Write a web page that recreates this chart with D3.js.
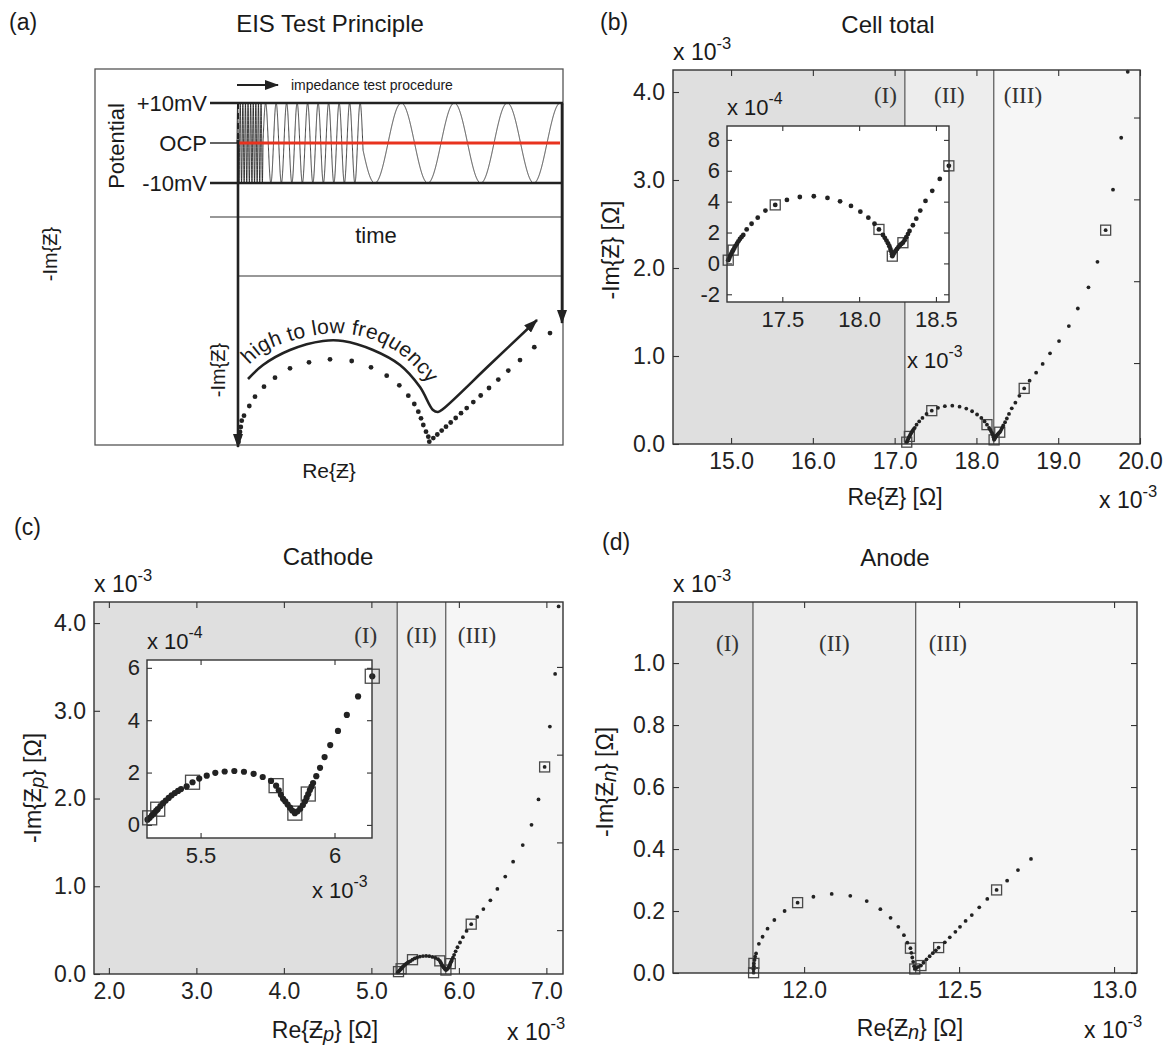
<!DOCTYPE html>
<html>
<head>
<meta charset="utf-8">
<script src="https://cdn.jsdelivr.net/npm/d3@7/dist/d3.min.js"></script>
<style>
html,body{margin:0;padding:0;background:#fff;}
svg{display:block;}
</style>
</head>
<body>
<svg id="fig" width="1169" height="1051" xmlns="http://www.w3.org/2000/svg"></svg>
<script>
const SANS = '"Liberation Sans", Arial, Helvetica, sans-serif';
const SERIF = '"Liberation Serif", "Times New Roman", serif';

// ================= DATA =================
// (a) schematic
const potentialLabels = ["+10mV", "OCP", "-10mV"];
const potentialValues = [10, 0, -10];
const sweepSegmentEnd = [26, 126, 326];
const sweepSegmentPeriod = [2.6, 10.5, 53];
const schemDotRe = [1.5, 2.2, 3, 3.8, 4.7, 7, 12.3, 18, 27, 38, 53, 72, 93, 114.7, 134, 149.7, 162.3, 171.3, 177.3, 181.3, 184, 186.3, 189, 191.3, 192.3, 196.3, 200.3, 204.7, 209, 213.7, 218.7, 224, 229.7, 236.3, 243.7, 252, 261.3, 271.3, 283, 297.3, 313];
const schemDotIm = [3, 8, 13, 18, 24.3, 29.3, 39, 48.3, 58.3, 67.3, 76.7, 82.7, 85.7, 84, 77.7, 69.3, 59.7, 49.3, 41, 33.3, 26.7, 20, 13.3, 8.3, 3.3, 6.9, 10.5, 14.4, 18.3, 22.5, 27, 31.8, 36.9, 42.9, 49.5, 57, 65.4, 74.4, 84.9, 97.8, 111.9];
const schemArcRe = [11, 26, 53, 86, 106, 136, 163, 183, 196, 201, 206, 253, 300];
const schemArcIm = [66, 80, 95, 104, 104, 95, 80, 58, 35, 33, 36, 80.5, 125];
const schemTextRe = [10, 27, 54, 86, 112, 142, 168, 187, 199];
const schemTextIm = [78, 93, 104, 111, 111, 103, 87, 67, 50];

// (b) Cell total  [x 1e-3 Ohm]
const cellRe = [17.148,17.155,17.162,17.168,17.175,17.18,17.188,17.196,17.205,17.214,17.224,17.235,17.246,17.268,17.30,17.34,17.39,17.454,17.53,17.614,17.705,17.794,17.876,17.947,18.008,18.06,18.10,18.129,18.155,18.167,18.178,18.188,18.197,18.204,18.21,18.214,18.216,18.222,18.23,18.238,18.247,18.256,18.266,18.275,18.285,18.296,18.307,18.318,18.328,18.35,18.372,18.398,18.432,18.476,18.525,18.584,18.65,18.73,18.81,18.90,19.01,19.13,19.24,19.37,19.48,19.58,19.67,19.77,19.85];
const cellIm = [0.021,0.035,0.05,0.063,0.076,0.086,0.1,0.114,0.128,0.143,0.158,0.171,0.184,0.22,0.257,0.296,0.342,0.379,0.411,0.43,0.435,0.424,0.402,0.372,0.335,0.296,0.257,0.22,0.184,0.166,0.148,0.13,0.111,0.093,0.076,0.06,0.047,0.058,0.07,0.082,0.094,0.106,0.118,0.126,0.134,0.15,0.17,0.19,0.21,0.247,0.29,0.342,0.405,0.47,0.547,0.632,0.72,0.81,0.91,1.03,1.17,1.34,1.54,1.78,2.07,2.43,2.89,3.48,4.23];
const cellBoxRe = [17.148,17.18,17.454,18.129,18.216,18.285,18.584,19.58];
const cellBoxIm = [0.021,0.086,0.379,0.22,0.047,0.134,0.632,2.43];

// (c) Cathode
const cathRe = [5.302,5.31,5.318,5.326,5.334,5.34,5.35,5.36,5.37,5.381,5.392,5.404,5.416,5.427,5.448,5.47,5.495,5.523,5.555,5.59,5.626,5.662,5.698,5.732,5.763,5.782,5.792,5.80,5.808,5.816,5.825,5.834,5.842,5.852,5.862,5.872,5.882,5.89,5.896,5.902,5.908,5.914,5.92,5.932,5.946,5.963,5.984,6.013,6.046,6.088,6.141,6.21,6.28,6.36,6.44,6.53,6.62,6.73,6.83,6.91,6.98,7.04,7.10,7.14];
const cathIm = [0.02,0.027,0.036,0.045,0.054,0.06,0.072,0.083,0.093,0.103,0.113,0.122,0.13,0.137,0.147,0.163,0.177,0.188,0.199,0.204,0.206,0.203,0.195,0.183,0.168,0.15,0.132,0.115,0.1,0.09,0.078,0.066,0.055,0.045,0.052,0.062,0.076,0.09,0.104,0.118,0.133,0.146,0.16,0.186,0.218,0.259,0.305,0.359,0.42,0.491,0.568,0.65,0.74,0.84,0.97,1.11,1.28,1.47,1.70,1.99,2.36,2.82,3.42,4.19];
const cathBoxRe = [5.31,5.34,5.47,5.782,5.852,5.902,6.141,6.98];
const cathBoxIm = [0.027,0.06,0.163,0.15,0.045,0.118,0.568,2.36];

// (d) Anode
const anodRe = [11.837,11.837,11.838,11.838,11.84,11.842,11.845,11.854,11.866,11.882,11.904,11.937,11.979,12.03,12.089,12.149,12.202,12.246,12.279,12.304,12.322,12.333,12.343,12.346,12.349,12.352,12.355,12.357,12.362,12.368,12.377,12.385,12.395,12.405,12.415,12.425,12.434,12.454,12.47,12.488,12.503,12.521,12.541,12.565,12.591,12.621,12.655,12.69,12.732];
const anodIm = [0.001,0.012,0.022,0.031,0.042,0.053,0.063,0.094,0.117,0.143,0.171,0.2,0.227,0.246,0.255,0.249,0.232,0.206,0.178,0.149,0.122,0.098,0.08,0.065,0.05,0.036,0.022,0.013,0.016,0.02,0.024,0.033,0.044,0.054,0.064,0.073,0.082,0.099,0.115,0.133,0.149,0.168,0.187,0.212,0.239,0.268,0.298,0.332,0.368];
const anodBoxRe = [11.837,11.838,11.979,12.343,12.357,12.377,12.434,12.621];
const anodBoxIm = [0.001,0.031,0.227,0.08,0.013,0.024,0.082,0.268];

// tick values
const cellXTicks = [15, 16, 17, 18, 19, 20];
const cellYTicks = [0, 1, 2, 3, 4];
const cellRightTicks = [0.92, 1.85, 2.78, 3.71];
const cellInsetXTicks = [17.5, 18.0, 18.5];
const cellInsetYTicks = [-2, 0, 2, 4, 6, 8];
const cathXTicks = [2, 3, 4, 5, 6, 7];
const cathYTicks = [0, 1, 2, 3, 4];
const cathRightTicks = [0.5, 1.5, 2.5, 3.5];
const cathInsetXTicks = [5.5, 6];
const cathInsetYTicks = [0, 2, 4, 6];
const anodXTicks = [12.0, 12.5, 13.0];
const anodYTicks = [0, 0.2, 0.4, 0.6, 0.8, 1.0];
const regionNames = ["(I)", "(II)", "(III)"];
const regionFill = ["#dfdfdf", "#ededed", "#f6f6f6"];

// ================= DRAWING =================
const svg = d3.select("#fig");
const defs = svg.append("defs");
defs.append("marker").attr("id", "ah").attr("viewBox", "0 0 14 10").attr("refX", 13).attr("refY", 5)
  .attr("markerWidth", 14).attr("markerHeight", 10).attr("markerUnits", "userSpaceOnUse").attr("orient", "auto")
  .append("path").attr("d", "M0,0 L14,5 L0,10 Z").attr("fill", "#222");

function txt(g, x, y, s, fs, opt = {}) {
  return g.append("text").attr("x", x).attr("y", y).attr("font-family", opt.ff || SANS)
    .attr("font-size", fs).attr("fill", opt.fill || "#1a1a1a").attr("text-anchor", opt.anchor || "start").text(s);
}
function rich(g, x, y, parts, fs, opt = {}) {
  const t = g.append("text").attr("x", x).attr("y", y).attr("font-family", SANS).attr("font-size", fs)
    .attr("fill", "#1a1a1a").attr("text-anchor", opt.anchor || "start");
  if (opt.rotate) t.attr("transform", `rotate(-90,${x},${y})`);
  parts.forEach(p => {
    const s = t.append("tspan").text(p.t);
    if (p.dy) s.attr("dy", p.dy);
    if (p.fs) s.attr("font-size", p.fs);
    if (p.it) s.attr("font-style", "italic");
  });
  return t;
}
function sci(g, x, y, exp, fs) {
  rich(g, x, y, [{t: "x 10"}, {t: exp, dy: -fs * 0.48, fs: fs * 0.72}], fs);
}

// ---------- Panel (a) ----------
(function () {
  const g = svg.append("g");
  txt(g, 9, 30, "(a)", 23);
  txt(g, 330, 32, "EIS Test Principle", 24, {anchor: "middle"});
  const L = 95, T = 69, R = 563, B = 445;
  g.append("rect").attr("x", L).attr("y", T).attr("width", R - L).attr("height", B - T)
    .attr("fill", "none").attr("stroke", "#555").attr("stroke-width", 1.3);

  const timeX = d3.scaleLinear([0, 326], [237, 563]);
  const potY = d3.scaleLinear([-10, 10], [183, 103]);

  // impedance test procedure arrow
  g.append("line").attr("x1", timeX(0)).attr("x2", timeX(41)).attr("y1", 85).attr("y2", 85)
    .attr("stroke", "#222").attr("stroke-width", 2).attr("marker-end", "url(#ah)");
  txt(g, timeX(54), 90, "impedance test procedure", 14);

  // sine sweep
  const pts = [];
  let phase = 0, t = 0, seg = 0;
  const dt = 0.05;
  while (t <= sweepSegmentEnd[sweepSegmentEnd.length - 1]) {
    pts.push([timeX(t), potY(10 * Math.sin(phase))]);
    while (seg < sweepSegmentEnd.length - 1 && t >= sweepSegmentEnd[seg]) seg++;
    phase += dt / sweepSegmentPeriod[seg] * 2 * Math.PI;
    t += dt;
  }
  g.append("path").attr("d", d3.line()(pts)).attr("fill", "none").attr("stroke", "#111").attr("stroke-width", 0.8);

  // potential levels
  potentialValues.forEach((v, i) => {
    const yy = potY(v);
    if (v === 0) {
      g.append("line").attr("x1", 210).attr("x2", timeX(0)).attr("y1", yy).attr("y2", yy).attr("stroke", "#222").attr("stroke-width", 1.4);
      g.append("line").attr("x1", timeX(0)).attr("x2", timeX(323)).attr("y1", yy).attr("y2", yy).attr("stroke", "#e8321e").attr("stroke-width", 3);
    } else {
      g.append("line").attr("x1", 210).attr("x2", timeX(326)).attr("y1", yy).attr("y2", yy).attr("stroke", "#222").attr("stroke-width", 2.4);
    }
    txt(g, 207, yy + 8, potentialLabels[i], 22, {anchor: "end"});
  });
  g.append("text").attr("transform", "rotate(-90,124,146)").attr("x", 124).attr("y", 146)
    .attr("font-family", SANS).attr("font-size", 22).attr("fill", "#1a1a1a").attr("text-anchor", "middle").text("Potential");

  // time row
  g.append("line").attr("x1", 210).attr("x2", R).attr("y1", 217).attr("y2", 217).attr("stroke", "#333").attr("stroke-width", 1.2);
  txt(g, 376, 243, "time", 22, {anchor: "middle"});
  g.append("line").attr("x1", timeX(0)).attr("x2", R).attr("y1", 276).attr("y2", 276).attr("stroke", "#333").attr("stroke-width", 1.2);

  // vertical arrows
  g.append("line").attr("x1", 238).attr("x2", 238).attr("y1", 103).attr("y2", 140)
    .attr("stroke", "#222").attr("stroke-width", 2).attr("stroke-dasharray", "6,4");
  g.append("line").attr("x1", 238).attr("x2", 238).attr("y1", 140).attr("y2", 447)
    .attr("stroke", "#222").attr("stroke-width", 2.6).attr("marker-end", "url(#ah)");
  g.append("line").attr("x1", 562).attr("x2", 562).attr("y1", 103).attr("y2", 323)
    .attr("stroke", "#222").attr("stroke-width", 2.6).attr("marker-end", "url(#ah)");

  // Nyquist schematic
  const tx = d3.scaleLinear([0, 326], [237, 563]);
  const ty = d3.scaleLinear([0, 342], [445, 103]);
  const arc = schemArcRe.map((r, i) => [tx(r), ty(schemArcIm[i])]);
  g.append("path").attr("d", d3.line().curve(d3.curveCatmullRom)(arc)).attr("fill", "none")
    .attr("stroke", "#222").attr("stroke-width", 2.6).attr("marker-end", "url(#ah)");
  const tp = schemTextRe.map((r, i) => [tx(r), ty(schemTextIm[i])]);
  defs.append("path").attr("id", "tpath").attr("d", d3.line().curve(d3.curveCatmullRom)(tp));
  g.append("text").attr("font-family", SANS).attr("font-size", 21).attr("fill", "#1a1a1a").attr("letter-spacing", 0.3)
    .append("textPath").attr("href", "#tpath").attr("startOffset", 3).text("high to low frequency");
  g.selectAll("circle.sd").data(schemDotRe).join("circle").attr("class", "sd")
    .attr("cx", d => tx(d)).attr("cy", (d, i) => ty(schemDotIm[i])).attr("r", 2.4).attr("fill", "#222");

  rich(g, 225, 370, [{t: "-Im{Ƶ}"}], 20, {anchor: "middle", rotate: true});
  rich(g, 57, 254, [{t: "-Im{Ƶ}"}], 20, {anchor: "middle", rotate: true});
  rich(g, 329, 478, [{t: "Re{Ƶ}"}], 21, {anchor: "middle"});
})();

// ---------- helpers for Nyquist panels ----------
function drawAxes(g, x, y, o) {
  const [L, R] = x.range(), [B, T] = y.range();
  const axes = [
    g.append("g").attr("transform", `translate(0,${B})`).call(d3.axisBottom(x).tickValues(o.xTicks).tickFormat(o.xFmt).tickSize(-o.tick).tickPadding(o.xPad)),
    g.append("g").attr("transform", `translate(0,${T})`).call(d3.axisTop(x).tickValues(o.xTicks).tickFormat("").tickSize(-o.tick)),
    g.append("g").attr("transform", `translate(${L},0)`).call(d3.axisLeft(y).tickValues(o.yTicks).tickFormat(o.yFmt).tickSize(-o.tick).tickPadding(o.yPad)),
    g.append("g").attr("transform", `translate(${R},0)`).call(d3.axisRight(y).tickValues(o.rightTicks || o.yTicks).tickFormat("").tickSize(-o.tick))
  ];
  axes.forEach(a => {
    a.attr("font-family", null).attr("font-size", null);
    a.select(".domain").remove();
    a.selectAll(".tick line").attr("stroke", "#333").attr("stroke-width", 1.1);
    a.selectAll(".tick text").attr("font-family", SANS).attr("font-size", o.fs).attr("fill", "#222");
  });
  g.append("rect").attr("x", L).attr("y", T).attr("width", R - L).attr("height", B - T)
    .attr("fill", "none").attr("stroke", "#333").attr("stroke-width", 1.4);
}
function drawSeries(g, x, y, re, im, bre, bim, mul, r, s) {
  const [x0, x1] = x.domain(), [y0, y1] = y.domain();
  const inside = (a, b) => a >= x0 - 1e-9 && a <= x1 + 0.002 && b * mul >= y0 && b * mul <= y1;
  const dots = re.map((a, i) => [a, im[i]]).filter(d => inside(d[0], d[1]));
  const boxes = bre.map((a, i) => [a, bim[i]]).filter(d => inside(d[0], d[1]));
  g.append("g").selectAll("rect").data(boxes).join("rect")
    .attr("x", d => x(d[0]) - s / 2).attr("y", d => y(d[1] * mul) - s / 2).attr("width", s).attr("height", s)
    .attr("fill", "none").attr("stroke", "#4a4a4a").attr("stroke-width", 1.3);
  g.append("g").selectAll("circle").data(dots).join("circle")
    .attr("cx", d => x(d[0])).attr("cy", d => y(d[1] * mul)).attr("r", r).attr("fill", "#222");
}
const fmt1 = d3.format(".1f");
const fmtPlain = d => String(d);

function drawPanel(p) {
  const g = svg.append("g");
  const x = d3.scaleLinear(p.xDomain, [p.L, p.R]);
  const y = d3.scaleLinear(p.yDomain, [p.B, p.T]);
  const edges = [p.xDomain[0], ...p.bounds, p.xDomain[1]];
  g.selectAll("rect.region").data(regionFill).join("rect").attr("class", "region")
    .attr("x", (d, i) => x(edges[i])).attr("width", (d, i) => x(edges[i + 1]) - x(edges[i]))
    .attr("y", p.T).attr("height", p.B - p.T).attr("fill", d => d);
  g.selectAll("line.bound").data(p.bounds).join("line").attr("class", "bound")
    .attr("x1", d => x(d)).attr("x2", d => x(d)).attr("y1", p.T).attr("y2", p.B)
    .attr("stroke", "#555").attr("stroke-width", 1.2);
  txt(g, x(p.bounds[0]) - p.labOff[0], p.labY, regionNames[0], 23, {ff: SERIF, anchor: "end", fill: "#333"});
  txt(g, (x(p.bounds[0]) + x(p.bounds[1])) / 2, p.labY, regionNames[1], 23, {ff: SERIF, anchor: "middle", fill: "#333"});
  txt(g, x(p.bounds[1]) + p.labOff[1], p.labY, regionNames[2], 23, {ff: SERIF, anchor: "start", fill: "#333"});
  drawSeries(g, x, y, p.re, p.im, p.bre, p.bim, 1, 1.9, 10);
  if (p.inset) {
    const q = p.inset;
    const gi = svg.append("g");
    gi.append("rect").attr("x", q.L).attr("y", q.T).attr("width", q.R - q.L).attr("height", q.B - q.T).attr("fill", "#fff");
    const xi = d3.scaleLinear(q.xDomain, [q.L, q.R]);
    const yi = d3.scaleLinear(q.yDomain, [q.B, q.T]);
    drawSeries(gi, xi, yi, p.re, p.im, p.bre, p.bim, 10, q.r, q.s);
    drawAxes(gi, xi, yi, {xTicks: q.xTicks, yTicks: q.yTicks, xFmt: q.xFmt, yFmt: fmtPlain, tick: 5, xPad: 9, yPad: 7, fs: 22});
    sci(gi, q.L, q.T - 11, "-4", 22);
    sci(gi, q.sciX, q.sciY, "-3", 22);
  }
  drawAxes(g, x, y, {xTicks: p.xTicks, yTicks: p.yTicks, rightTicks: p.rightTicks, xFmt: fmt1, yFmt: fmt1, tick: 6, xPad: 9, yPad: 8, fs: 23});
  // labels
  txt(g, p.letter[0], p.letter[1], p.letter[2], 23);
  txt(g, p.title[0], p.title[1], p.title[2], 24, {anchor: "middle"});
  sci(g, p.L, p.T - 10, "-3", 23);
  sci(g, p.sciB[0], p.sciB[1], "-3", 23);
  rich(g, p.xlab[0], p.xlab[1], p.xlabParts, 23, {anchor: "middle"});
  rich(g, p.ylab[0], p.ylab[1], p.ylabParts, 23, {anchor: "middle", rotate: true});
}

// ---------- Panel (b) ----------
drawPanel({
  L: 673, R: 1140, T: 70, B: 444, xDomain: [14.29, 20.0], yDomain: [0, 4.25],
  xTicks: cellXTicks, yTicks: cellYTicks, rightTicks: cellRightTicks,
  bounds: [17.125, 18.212], labY: 103, labOff: [8, 10],
  re: cellRe, im: cellIm, bre: cellBoxRe, bim: cellBoxIm,
  letter: [600, 30, "(b)"], title: [888, 33, "Cell total"], sciB: [1099, 508],
  xlab: [895, 505], xlabParts: [{t: "Re{Ƶ} [Ω]"}],
  ylab: [619, 250], ylabParts: [{t: "-Im{Ƶ}  [Ω]"}],
  inset: {L: 727, R: 949, T: 126, B: 302, xDomain: [17.14, 18.585], yDomain: [-2.5, 8.9],
    xTicks: cellInsetXTicks, yTicks: cellInsetYTicks, xFmt: fmt1, r: 2.4, s: 10, sciX: 907, sciY: 368}
});

// ---------- Panel (c) ----------
drawPanel({
  L: 94, R: 563, T: 602, B: 974, xDomain: [1.83, 7.19], yDomain: [0, 4.24],
  xTicks: cathXTicks, yTicks: cathYTicks, rightTicks: cathRightTicks,
  bounds: [5.295, 5.85], labY: 643, labOff: [20, 12],
  re: cathRe, im: cathIm, bre: cathBoxRe, bim: cathBoxIm,
  letter: [14, 535, "(c)"], title: [328, 565, "Cathode"], sciB: [507, 1040],
  xlab: [325, 1038], xlabParts: [{t: "Re{Ƶ"}, {t: "p", it: true, dy: 3, fs: 20}, {t: "} [Ω]", dy: -3}],
  ylab: [41, 788], ylabParts: [{t: "-Im{Ƶ"}, {t: "p", it: true, dy: 3, fs: 20}, {t: "} [Ω]", dy: -3}],
  inset: {L: 147, R: 372, T: 660, B: 838, xDomain: [5.3, 6.14], yDomain: [-0.5, 6.3],
    xTicks: cathInsetXTicks, yTicks: cathInsetYTicks, xFmt: fmtPlain, r: 3.1, s: 14, sciX: 312, sciY: 898}
});

// ---------- Panel (d) ----------
drawPanel({
  L: 673, R: 1137, T: 602, B: 973, xDomain: [11.577, 13.074], yDomain: [0, 1.197],
  xTicks: anodXTicks, yTicks: anodYTicks, rightTicks: anodYTicks,
  bounds: [11.835, 12.36], labY: 651, labOff: [14, 13],
  re: anodRe, im: anodIm, bre: anodBoxRe, bim: anodBoxIm,
  letter: [602, 550, "(d)"], title: [895, 566, "Anode"], sciB: [1084, 1038],
  xlab: [910, 1036], xlabParts: [{t: "Re{Ƶ"}, {t: "n", it: true, dy: 3, fs: 20}, {t: "} [Ω]", dy: -3}],
  ylab: [613, 782], ylabParts: [{t: "-Im{Ƶ"}, {t: "n", it: true, dy: 3, fs: 20}, {t: "} [Ω]", dy: -3}]
});
</script>
</body>
</html>
